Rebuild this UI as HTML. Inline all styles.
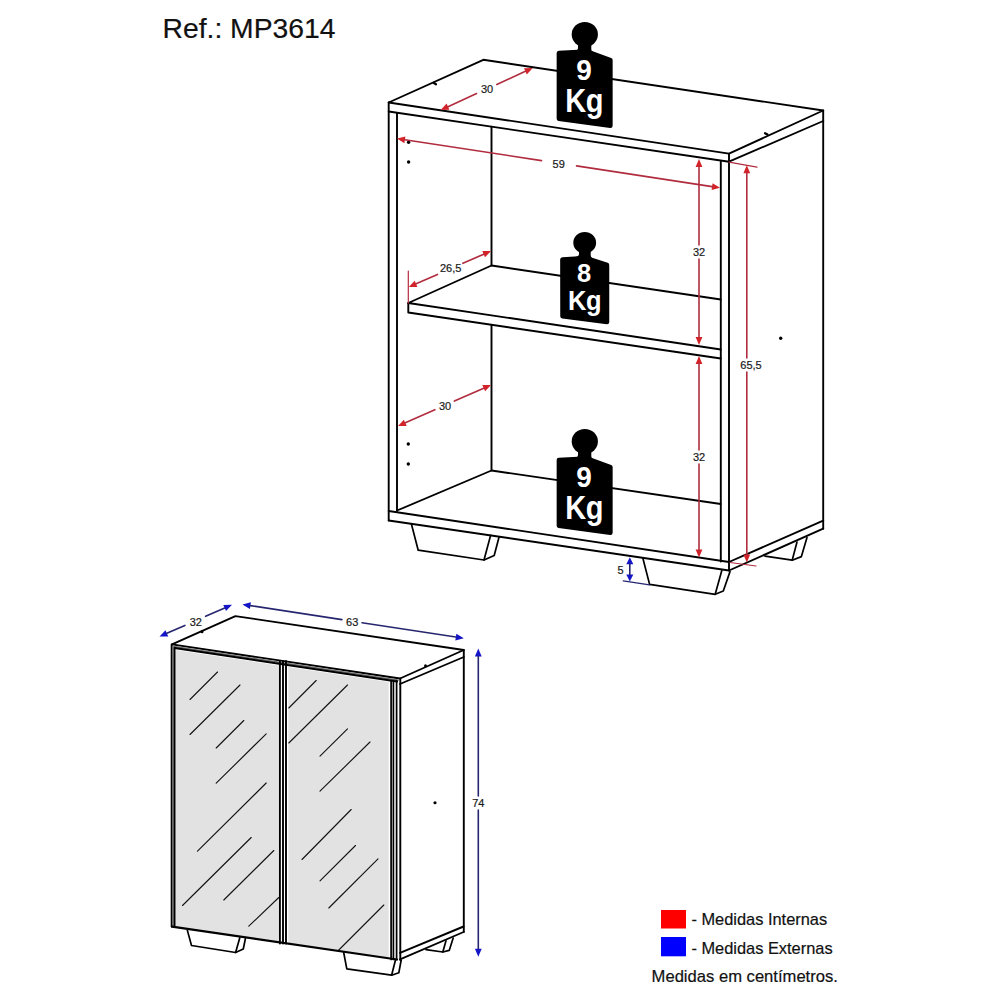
<!DOCTYPE html>
<html><head><meta charset="utf-8"><style>
html,body{margin:0;padding:0;background:#fff;}
svg{display:block;font-family:"Liberation Sans", sans-serif;}
</style></head><body>
<svg width="1000" height="1000" viewBox="0 0 1000 1000">
<rect width="1000" height="1000" fill="#fff"/>
<polyline points="388.7,102.5 483.3,59.8 823.2,110.5 729.0,153.6 388.7,102.5" fill="none" stroke="#000" stroke-width="1.9" stroke-linejoin="round" stroke-linecap="round" />
<polyline points="388.7,102.5 388.7,520.5" fill="none" stroke="#000" stroke-width="1.9" stroke-linejoin="round" stroke-linecap="round" />
<polyline points="388.7,111.5 729.0,161.7" fill="none" stroke="#000" stroke-width="1.9" stroke-linejoin="round" stroke-linecap="round" />
<polyline points="729.0,153.6 729.0,570.5" fill="none" stroke="#000" stroke-width="1.9" stroke-linejoin="round" stroke-linecap="round" />
<polyline points="823.2,110.5 823.2,528.7" fill="none" stroke="#000" stroke-width="1.9" stroke-linejoin="round" stroke-linecap="round" />
<polyline points="729.0,161.7 823.2,121.0" fill="none" stroke="#000" stroke-width="1.9" stroke-linejoin="round" stroke-linecap="round" />
<polyline points="397.0,113.0 397.0,511.0" fill="none" stroke="#000" stroke-width="1.9" stroke-linejoin="round" stroke-linecap="round" />
<polyline points="720.8,161.7 720.8,561.5" fill="none" stroke="#000" stroke-width="1.9" stroke-linejoin="round" stroke-linecap="round" />
<polyline points="491.5,126.8 491.5,265.5" fill="none" stroke="#000" stroke-width="1.9" stroke-linejoin="round" stroke-linecap="round" />
<polyline points="720.8,299.5 491.5,265.5 408.3,303.0 720.8,349.5" fill="none" stroke="#000" stroke-width="1.9" stroke-linejoin="round" stroke-linecap="round" />
<polyline points="408.3,303.0 408.3,312.5 720.8,358.5" fill="none" stroke="#000" stroke-width="1.9" stroke-linejoin="round" stroke-linecap="round" />
<polyline points="491.5,325.0 491.5,470.5" fill="none" stroke="#000" stroke-width="1.9" stroke-linejoin="round" stroke-linecap="round" />
<polyline points="397.0,510.5 491.5,470.5 720.8,504.0" fill="none" stroke="#000" stroke-width="1.9" stroke-linejoin="round" stroke-linecap="round" />
<polyline points="388.7,511.0 729.0,562.0 823.2,520.7" fill="none" stroke="#000" stroke-width="1.9" stroke-linejoin="round" stroke-linecap="round" />
<polyline points="388.7,520.5 729.0,570.5 823.2,528.7" fill="none" stroke="#000" stroke-width="1.9" stroke-linejoin="round" stroke-linecap="round" />
<polyline points="411.4,524.0 418.2,550.2 484.0,560.0 494.2,555.5 499.0,537.2" fill="none" stroke="#000" stroke-width="1.7" stroke-linejoin="round" stroke-linecap="round" />
<polyline points="484.0,560.0 490.6,535.4" fill="none" stroke="#000" stroke-width="1.7" stroke-linejoin="round" stroke-linecap="round" />
<polyline points="643.0,558.8 649.6,584.4 715.2,594.3 723.3,591.0 730.0,571.6" fill="none" stroke="#000" stroke-width="1.7" stroke-linejoin="round" stroke-linecap="round" />
<polyline points="715.2,594.3 721.8,570.5" fill="none" stroke="#000" stroke-width="1.7" stroke-linejoin="round" stroke-linecap="round" />
<polyline points="765.0,556.2 792.2,560.2 801.4,556.6 807.0,537.5" fill="none" stroke="#000" stroke-width="1.7" stroke-linejoin="round" stroke-linecap="round" />
<polyline points="792.2,560.2 797.0,542.0" fill="none" stroke="#000" stroke-width="1.7" stroke-linejoin="round" stroke-linecap="round" />
<circle cx="408.6" cy="142.2" r="1.7" fill="#000"/>
<circle cx="408.6" cy="162" r="1.7" fill="#000"/>
<circle cx="408.3" cy="444" r="1.7" fill="#000"/>
<circle cx="408.3" cy="464" r="1.7" fill="#000"/>
<circle cx="780.7" cy="338.2" r="1.7" fill="#000"/>
<polyline points="433.5,82.8 436.0,84.3" fill="none" stroke="#000" stroke-width="2.2" stroke-linejoin="round" stroke-linecap="round" />
<polyline points="765.0,133.2 767.5,134.5" fill="none" stroke="#000" stroke-width="2.2" stroke-linejoin="round" stroke-linecap="round" />
<polyline points="408.3,271.0 408.3,303.0" fill="none" stroke="#b02c3e" stroke-width="1.2" stroke-linejoin="round" stroke-linecap="round" />
<polyline points="729.0,162.2 757.0,167.1" fill="none" stroke="#b02c3e" stroke-width="1.2" stroke-linejoin="round" stroke-linecap="round" />
<polyline points="730.0,562.5 756.0,566.0" fill="none" stroke="#b02c3e" stroke-width="1.2" stroke-linejoin="round" stroke-linecap="round" />
<polygon points="440.7,110.0 446.6,103.6 449.4,109.8" fill="#d2232a" stroke="none" stroke-width="0" stroke-linejoin="round"/>
<polygon points="532.7,68.0 526.8,74.4 524.0,68.2" fill="#d2232a" stroke="none" stroke-width="0" stroke-linejoin="round"/>
<polyline points="448.0,106.7 476.6,93.6" fill="none" stroke="#b02c3e" stroke-width="1.6" stroke-linejoin="round" stroke-linecap="round" />
<polyline points="496.8,84.4 525.4,71.3" fill="none" stroke="#b02c3e" stroke-width="1.6" stroke-linejoin="round" stroke-linecap="round" />
<text x="487" y="93" font-size="11" fill="#1a1a1a" stroke="#1a1a1a" stroke-width="0.2" text-anchor="middle" font-weight="normal" >30</text>
<polygon points="397.0,138.6 405.4,136.4 404.4,143.2" fill="#d2232a" stroke="none" stroke-width="0" stroke-linejoin="round"/>
<polygon points="720.0,187.8 711.6,190.0 712.6,183.2" fill="#d2232a" stroke="none" stroke-width="0" stroke-linejoin="round"/>
<polyline points="404.9,139.8 541.5,160.6" fill="none" stroke="#b02c3e" stroke-width="1.6" stroke-linejoin="round" stroke-linecap="round" />
<polyline points="576.5,165.9 712.1,186.6" fill="none" stroke="#b02c3e" stroke-width="1.6" stroke-linejoin="round" stroke-linecap="round" />
<text x="558.7" y="167.5" font-size="11" fill="#1a1a1a" stroke="#1a1a1a" stroke-width="0.2" text-anchor="middle" font-weight="normal" >59</text>
<polygon points="699.0,159.0 702.4,167.0 695.6,167.0" fill="#d2232a" stroke="none" stroke-width="0" stroke-linejoin="round"/>
<polygon points="699.0,345.0 695.6,337.0 702.4,337.0" fill="#d2232a" stroke="none" stroke-width="0" stroke-linejoin="round"/>
<polyline points="699.0,167.0 699.0,245.0" fill="none" stroke="#b02c3e" stroke-width="1.6" stroke-linejoin="round" stroke-linecap="round" />
<polyline points="699.0,259.0 699.0,337.0" fill="none" stroke="#b02c3e" stroke-width="1.6" stroke-linejoin="round" stroke-linecap="round" />
<text x="699" y="256" font-size="11" fill="#1a1a1a" stroke="#1a1a1a" stroke-width="0.2" text-anchor="middle" font-weight="normal" >32</text>
<polygon points="699.0,356.0 702.4,364.0 695.6,364.0" fill="#d2232a" stroke="none" stroke-width="0" stroke-linejoin="round"/>
<polygon points="699.0,557.5 695.6,549.5 702.4,549.5" fill="#d2232a" stroke="none" stroke-width="0" stroke-linejoin="round"/>
<polyline points="699.0,364.0 699.0,450.0" fill="none" stroke="#b02c3e" stroke-width="1.6" stroke-linejoin="round" stroke-linecap="round" />
<polyline points="699.0,464.0 699.0,549.5" fill="none" stroke="#b02c3e" stroke-width="1.6" stroke-linejoin="round" stroke-linecap="round" />
<text x="699" y="461" font-size="11" fill="#1a1a1a" stroke="#1a1a1a" stroke-width="0.2" text-anchor="middle" font-weight="normal" >32</text>
<polygon points="746.8,165.3 750.2,173.3 743.4,173.3" fill="#d2232a" stroke="none" stroke-width="0" stroke-linejoin="round"/>
<polygon points="746.8,562.5 743.4,554.5 750.2,554.5" fill="#d2232a" stroke="none" stroke-width="0" stroke-linejoin="round"/>
<polyline points="746.8,173.3 746.8,358.0" fill="none" stroke="#b02c3e" stroke-width="1.6" stroke-linejoin="round" stroke-linecap="round" />
<polyline points="746.8,372.0 746.8,554.5" fill="none" stroke="#b02c3e" stroke-width="1.6" stroke-linejoin="round" stroke-linecap="round" />
<text x="751" y="369" font-size="11" fill="#1a1a1a" stroke="#1a1a1a" stroke-width="0.2" text-anchor="middle" font-weight="normal" >65,5</text>
<polygon points="408.8,287.0 414.7,280.7 417.4,286.9" fill="#d2232a" stroke="none" stroke-width="0" stroke-linejoin="round"/>
<polygon points="491.0,251.0 485.0,257.3 482.3,251.1" fill="#d2232a" stroke="none" stroke-width="0" stroke-linejoin="round"/>
<polyline points="416.1,283.8 437.5,274.4" fill="none" stroke="#b02c3e" stroke-width="1.6" stroke-linejoin="round" stroke-linecap="round" />
<polyline points="462.9,263.3 483.7,254.2" fill="none" stroke="#b02c3e" stroke-width="1.6" stroke-linejoin="round" stroke-linecap="round" />
<text x="450.7" y="272" font-size="11" fill="#1a1a1a" stroke="#1a1a1a" stroke-width="0.2" text-anchor="middle" font-weight="normal" >26,5</text>
<polygon points="398.0,426.0 403.9,419.7 406.7,425.9" fill="#d2232a" stroke="none" stroke-width="0" stroke-linejoin="round"/>
<polygon points="491.0,385.0 485.1,391.3 482.3,385.1" fill="#d2232a" stroke="none" stroke-width="0" stroke-linejoin="round"/>
<polyline points="405.3,422.8 434.9,409.7" fill="none" stroke="#b02c3e" stroke-width="1.6" stroke-linejoin="round" stroke-linecap="round" />
<polyline points="454.4,401.1 483.7,388.2" fill="none" stroke="#b02c3e" stroke-width="1.6" stroke-linejoin="round" stroke-linecap="round" />
<text x="445" y="409.5" font-size="11" fill="#1a1a1a" stroke="#1a1a1a" stroke-width="0.2" text-anchor="middle" font-weight="normal" >30</text>
<polyline points="623.2,580.8 649.6,584.8" fill="none" stroke="#262670" stroke-width="1.2" stroke-linejoin="round" stroke-linecap="round" />
<polygon points="629.8,557.3 633.3,564.3 626.3,564.3" fill="#1414c8" stroke="none" stroke-width="0" stroke-linejoin="round"/>
<polygon points="629.8,581.5 626.3,574.5 633.3,574.5" fill="#1414c8" stroke="none" stroke-width="0" stroke-linejoin="round"/>
<polyline points="629.8,564.3 629.8,574.5" fill="none" stroke="#262670" stroke-width="1.6" stroke-linejoin="round" stroke-linecap="round" />
<text x="620.5" y="573.5" font-size="11" fill="#1a1a1a" stroke="#1a1a1a" stroke-width="0.2" text-anchor="middle" font-weight="normal" >5</text>
<polygon points="558.9,53.0 578.0,51.9 591.3,53.2 610.4,60.0 610.4,125.8 558.9,118.8" fill="#000" stroke="#000" stroke-width="4.5" stroke-linejoin="round"/>
<path d="M578,40 L578,47.8 Q578.3,50.8 573,51.4 L578,53.8 L591.3,55 L596.8,54.2 Q591.0999999999999,52 591.3,49 L591.3,40 Z" fill="#000"/>
<ellipse cx="584.8" cy="34.5" rx="13.1" ry="12.6" fill="#000"/>
<text transform="translate(584,79.5) scale(1,1.08)" font-size="28" fill="#fff" text-anchor="middle" font-weight="bold" letter-spacing="0">9</text>
<text transform="translate(584.25,111.7) scale(1,1.12)" font-size="29" fill="#fff" text-anchor="middle" font-weight="bold" letter-spacing="-0.3">Kg</text>
<polygon points="558.9,459.9 578.0,458.9 591.3,460.2 610.4,467.0 610.4,532.8 558.9,525.8" fill="#000" stroke="#000" stroke-width="4.5" stroke-linejoin="round"/>
<path d="M578,447 L578,454.8 Q578.3,457.8 573,458.40000000000003 L578,460.8 L591.3,462 L596.8,461.2 Q591.0999999999999,459 591.3,456 L591.3,447 Z" fill="#000"/>
<ellipse cx="584.8" cy="441.5" rx="13.1" ry="12.6" fill="#000"/>
<text transform="translate(584,486.9) scale(1,1.08)" font-size="28" fill="#fff" text-anchor="middle" font-weight="bold" letter-spacing="0">9</text>
<text transform="translate(584.25,518.5) scale(1,1.12)" font-size="29" fill="#fff" text-anchor="middle" font-weight="bold" letter-spacing="-0.3">Kg</text>
<polygon points="562.4,259.6 579.0,258.4 590.7,259.6 607.0,264.9 607.0,321.9 562.5,316.2" fill="#000" stroke="#000" stroke-width="4.5" stroke-linejoin="round"/>
<path d="M579,248 L579,253.8 Q579.3,256.8 574,257.40000000000003 L579,259.8 L590.7,261 L596.2,260.2 Q590.5,258 590.7,255 L590.7,248 Z" fill="#000"/>
<ellipse cx="584.7" cy="242.7" rx="11.4" ry="10.8" fill="#000"/>
<text transform="translate(584.2,282.4) scale(1,1.0)" font-size="25.5" fill="#fff" text-anchor="middle" font-weight="bold" letter-spacing="0">8</text>
<text transform="translate(584.7,310.2) scale(1,1.08)" font-size="25.5" fill="#fff" text-anchor="middle" font-weight="bold" letter-spacing="-0.3">Kg</text>
<polygon points="175.5,650.0 278.7,665.5 278.7,942.0 175.5,926.5" fill="#e2e2e2" stroke="none" stroke-width="0" stroke-linejoin="round"/>
<polygon points="288.3,667.0 388.7,682.0 388.7,958.0 288.3,943.0" fill="#e2e2e2" stroke="none" stroke-width="0" stroke-linejoin="round"/>
<polyline points="172.0,644.4 235.4,616.1 463.8,650.0 400.0,678.5 172.0,644.4" fill="none" stroke="#000" stroke-width="1.9" stroke-linejoin="round" stroke-linecap="round" />
<polyline points="173.5,646.6 398.0,680.2" fill="none" stroke="#666" stroke-width="1.6" stroke-linejoin="round" stroke-linecap="round" />
<polyline points="174.4,648.0 397.0,681.5" fill="none" stroke="#000" stroke-width="2.0" stroke-linejoin="round" stroke-linecap="round" />
<polyline points="400.0,684.0 463.8,657.0" fill="none" stroke="#000" stroke-width="1.9" stroke-linejoin="round" stroke-linecap="round" />
<polyline points="463.8,650.0 463.8,932.0" fill="none" stroke="#000" stroke-width="1.9" stroke-linejoin="round" stroke-linecap="round" />
<polyline points="400.3,678.5 400.3,960.0" fill="none" stroke="#000" stroke-width="1.9" stroke-linejoin="round" stroke-linecap="round" />
<polyline points="171.7,644.4 171.7,926.6" fill="none" stroke="#000" stroke-width="2.0" stroke-linejoin="round" stroke-linecap="round" />
<polyline points="173.1,646.0 173.1,926.6" fill="none" stroke="#888" stroke-width="1.2" stroke-linejoin="round" stroke-linecap="round" />
<polyline points="174.5,648.0 174.5,926.6" fill="none" stroke="#000" stroke-width="2.0" stroke-linejoin="round" stroke-linecap="round" />
<polyline points="279.9,661.0 279.9,943.5" fill="none" stroke="#000" stroke-width="1.9" stroke-linejoin="round" stroke-linecap="round" />
<polyline points="283.0,661.0 283.0,943.5" fill="none" stroke="#000" stroke-width="1.9" stroke-linejoin="round" stroke-linecap="round" />
<polyline points="286.0,661.0 286.0,943.5" fill="none" stroke="#000" stroke-width="1.9" stroke-linejoin="round" stroke-linecap="round" />
<polyline points="391.1,680.5 391.1,959.5" fill="none" stroke="#000" stroke-width="1.7" stroke-linejoin="round" stroke-linecap="round" />
<polyline points="393.4,680.5 393.4,959.5" fill="none" stroke="#000" stroke-width="1.7" stroke-linejoin="round" stroke-linecap="round" />
<polyline points="396.6,680.5 396.6,959.5" fill="none" stroke="#000" stroke-width="1.7" stroke-linejoin="round" stroke-linecap="round" />
<polyline points="172.0,926.6 397.0,959.5" fill="none" stroke="#000" stroke-width="2.2" stroke-linejoin="round" stroke-linecap="round" />
<polyline points="400.0,952.8 463.6,926.5" fill="none" stroke="#000" stroke-width="1.9" stroke-linejoin="round" stroke-linecap="round" />
<polyline points="400.0,959.3 463.6,932.0" fill="none" stroke="#000" stroke-width="1.9" stroke-linejoin="round" stroke-linecap="round" />
<polyline points="190.0,699.5 217.5,672.0" fill="none" stroke="#111" stroke-width="1.1" stroke-linejoin="round" stroke-linecap="round" />
<polyline points="190.0,734.5 240.0,685.0" fill="none" stroke="#111" stroke-width="1.1" stroke-linejoin="round" stroke-linecap="round" />
<polyline points="216.2,748.0 243.8,720.5" fill="none" stroke="#111" stroke-width="1.1" stroke-linejoin="round" stroke-linecap="round" />
<polyline points="216.2,783.2 266.2,733.8" fill="none" stroke="#111" stroke-width="1.1" stroke-linejoin="round" stroke-linecap="round" />
<polyline points="197.5,851.2 266.2,783.0" fill="none" stroke="#111" stroke-width="1.1" stroke-linejoin="round" stroke-linecap="round" />
<polyline points="182.5,905.5 251.2,837.5" fill="none" stroke="#111" stroke-width="1.1" stroke-linejoin="round" stroke-linecap="round" />
<polyline points="223.8,900.0 273.8,850.5" fill="none" stroke="#111" stroke-width="1.1" stroke-linejoin="round" stroke-linecap="round" />
<polyline points="248.8,926.2 278.8,897.5" fill="none" stroke="#111" stroke-width="1.1" stroke-linejoin="round" stroke-linecap="round" />
<polyline points="288.8,708.0 316.2,680.5" fill="none" stroke="#111" stroke-width="1.1" stroke-linejoin="round" stroke-linecap="round" />
<polyline points="288.8,743.0 347.5,685.0" fill="none" stroke="#111" stroke-width="1.1" stroke-linejoin="round" stroke-linecap="round" />
<polyline points="320.0,756.2 347.5,728.8" fill="none" stroke="#111" stroke-width="1.1" stroke-linejoin="round" stroke-linecap="round" />
<polyline points="320.0,791.2 370.0,742.0" fill="none" stroke="#111" stroke-width="1.1" stroke-linejoin="round" stroke-linecap="round" />
<polyline points="302.0,859.5 351.2,809.5" fill="none" stroke="#111" stroke-width="1.1" stroke-linejoin="round" stroke-linecap="round" />
<polyline points="320.0,880.8 355.5,845.5" fill="none" stroke="#111" stroke-width="1.1" stroke-linejoin="round" stroke-linecap="round" />
<polyline points="328.8,908.0 378.0,858.8" fill="none" stroke="#111" stroke-width="1.1" stroke-linejoin="round" stroke-linecap="round" />
<polyline points="338.8,950.0 383.8,905.0" fill="none" stroke="#111" stroke-width="1.1" stroke-linejoin="round" stroke-linecap="round" />
<polyline points="187.3,930.1 191.5,945.5 235.6,952.5 243.3,949.0 245.4,938.5" fill="none" stroke="#000" stroke-width="1.7" stroke-linejoin="round" stroke-linecap="round" />
<polyline points="235.6,952.5 239.8,937.8" fill="none" stroke="#000" stroke-width="1.7" stroke-linejoin="round" stroke-linecap="round" />
<polyline points="343.6,952.0 346.8,968.8 391.6,975.2 398.8,972.8 401.2,960.0" fill="none" stroke="#000" stroke-width="1.7" stroke-linejoin="round" stroke-linecap="round" />
<polyline points="391.6,975.2 395.6,959.5" fill="none" stroke="#000" stroke-width="1.7" stroke-linejoin="round" stroke-linecap="round" />
<polyline points="426.0,949.6 442.8,952.0 449.2,950.4 453.2,938.0" fill="none" stroke="#000" stroke-width="1.7" stroke-linejoin="round" stroke-linecap="round" />
<polyline points="442.8,952.0 446.0,940.8" fill="none" stroke="#000" stroke-width="1.7" stroke-linejoin="round" stroke-linecap="round" />
<circle cx="202" cy="631.8" r="1.5" fill="#000"/>
<circle cx="425.5" cy="665.8" r="1.5" fill="#000"/>
<circle cx="435" cy="802.75" r="1.6" fill="#000"/>
<polygon points="159.5,636.5 165.5,630.2 168.2,636.4" fill="#1414c8" stroke="none" stroke-width="0" stroke-linejoin="round"/>
<polygon points="232.0,604.8 226.0,611.1 223.3,604.9" fill="#1414c8" stroke="none" stroke-width="0" stroke-linejoin="round"/>
<polyline points="166.8,633.3 184.9,625.4" fill="none" stroke="#262670" stroke-width="1.6" stroke-linejoin="round" stroke-linecap="round" />
<polyline points="205.6,616.3 224.7,608.0" fill="none" stroke="#262670" stroke-width="1.6" stroke-linejoin="round" stroke-linecap="round" />
<text x="195.8" y="625.7" font-size="11" fill="#1a1a1a" stroke="#1a1a1a" stroke-width="0.2" text-anchor="middle" font-weight="normal" >32</text>
<polygon points="242.5,604.4 250.9,602.2 249.9,609.0" fill="#1414c8" stroke="none" stroke-width="0" stroke-linejoin="round"/>
<polygon points="463.8,638.2 455.3,640.4 456.4,633.7" fill="#1414c8" stroke="none" stroke-width="0" stroke-linejoin="round"/>
<polyline points="250.4,605.6 341.9,619.6" fill="none" stroke="#262670" stroke-width="1.6" stroke-linejoin="round" stroke-linecap="round" />
<polyline points="362.0,622.7 455.8,637.0" fill="none" stroke="#262670" stroke-width="1.6" stroke-linejoin="round" stroke-linecap="round" />
<text x="352.2" y="625.7" font-size="11" fill="#1a1a1a" stroke="#1a1a1a" stroke-width="0.2" text-anchor="middle" font-weight="normal" >63</text>
<polygon points="478.3,648.5 481.7,656.5 474.9,656.5" fill="#1414c8" stroke="none" stroke-width="0" stroke-linejoin="round"/>
<polygon points="478.3,956.8 474.9,948.8 481.7,948.8" fill="#1414c8" stroke="none" stroke-width="0" stroke-linejoin="round"/>
<polyline points="478.3,656.5 478.3,796.0" fill="none" stroke="#262670" stroke-width="1.6" stroke-linejoin="round" stroke-linecap="round" />
<polyline points="478.3,810.0 478.3,948.8" fill="none" stroke="#262670" stroke-width="1.6" stroke-linejoin="round" stroke-linecap="round" />
<text x="478.3" y="806.8" font-size="11" fill="#1a1a1a" stroke="#1a1a1a" stroke-width="0.2" text-anchor="middle" font-weight="normal" >74</text>
<rect x="661" y="910" width="25" height="18.5" fill="#ff0000"/>
<rect x="661" y="937" width="25" height="19.3" fill="#0000ff"/>
<text x="691.4" y="924.9" font-size="16.4" fill="#111" stroke="#111" stroke-width="0.2" text-anchor="start" font-weight="normal" >- Medidas Internas</text>
<text x="691.4" y="953.6" font-size="16.4" fill="#111" stroke="#111" stroke-width="0.2" text-anchor="start" font-weight="normal" >- Medidas Externas</text>
<text x="651.6" y="982.4" font-size="16.6" fill="#111" stroke="#111" stroke-width="0.2" text-anchor="start" font-weight="normal" >Medidas em cent&#237;metros.</text>
<text x="162.5" y="38" font-size="28.3" fill="#111" stroke="#111" stroke-width="0.2" text-anchor="start" font-weight="normal" >Ref.: MP3614</text>
</svg></body></html>
